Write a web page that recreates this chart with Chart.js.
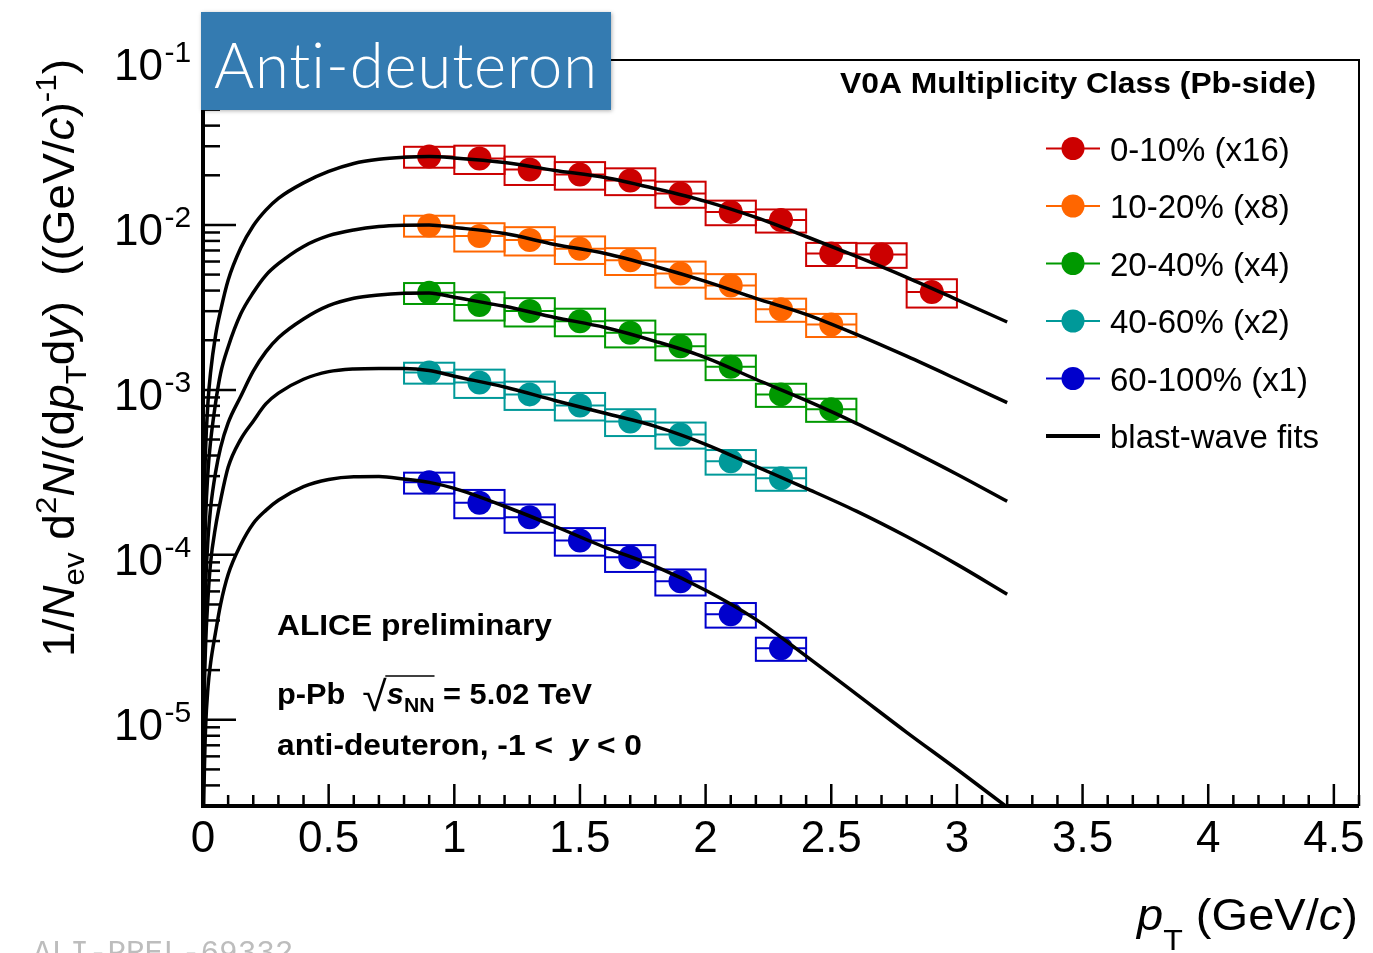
<!DOCTYPE html>
<html>
<head>
<meta charset="utf-8">
<title>Anti-deuteron pT spectra, p-Pb 5.02 TeV</title>
<script src="https://cdn.jsdelivr.net/npm/chart.js@4.4.0/dist/chart.umd.min.js"></script>
<style>
  html, body { margin: 0; padding: 0; background: #fff; }
  canvas { display: block; }
</style>
</head>
<body>
<canvas id="spectra" width="1373" height="953"></canvas>
<script>
// pT bin centres (GeV/c); every bin is 0.2 wide
const ptBins = [0.9, 1.1, 1.3, 1.5, 1.7, 1.9, 2.1, 2.3, 2.5, 2.7, 2.9];
const ptHalfWidth = 0.1;
// relative systematic uncertainty per pT bin (the open boxes)
const sysRel = [0.145, 0.195, 0.195, 0.19, 0.185, 0.18, 0.17, 0.16, 0.16, 0.17, 0.195];

// V0A multiplicity classes, already scaled by the factor in the label
const classLabels = ['0-10% (x16)', '10-20% (x8)', '20-40% (x4)', '40-60% (x2)', '60-100% (x1)'];
const classColors = ['#cc0000', '#ff6600', '#009900', '#009999', '#0000cc'];
const yield0to10  = [0.0260, 0.0253, 0.0217, 0.0202, 0.0186, 0.0155, 0.0120, 0.0107, 0.00671, 0.00662, 0.00392];
const yield10to20 = [0.00993, 0.00857, 0.00811, 0.00716, 0.00610, 0.00508, 0.00430, 0.00308, 0.00249];
const yield20to40 = [0.00388, 0.00327, 0.00301, 0.00261, 0.00222, 0.00184, 0.00138, 0.000939, 0.000762];
const yield40to60 = [0.001276, 0.00111, 0.000939, 0.000805, 0.000644, 0.000537, 0.000369, 0.000291];
const yield60to100 = [0.000275, 0.000207, 0.000169, 0.000122, 0.0000966, 0.0000691, 0.0000436, 0.0000271];

// blast-wave fits, sampled along pT
const fitPt = [0.0001, 0.001, 0.005, 0.01, 0.02, 0.03, 0.05, 0.07, 0.1, 0.15, 0.2, 0.25, 0.3,
  0.4, 0.5, 0.6, 0.7, 0.8, 0.9, 1.0, 1.2, 1.4, 1.6, 1.8, 2.0, 2.2, 2.4, 2.6, 2.8, 3.0, 3.2];
const fit0to10 = [4.27e-6, 4.27e-5, 2.14e-4, 4.27e-4, 8.51e-4, 1.27e-3, 2.14e-3, 3.02e-3, 4.62e-3, 7.24e-3,
  9.89e-3, 1.23e-2, 1.45e-2, 1.80e-2, 2.11e-2, 2.36e-2, 2.50e-2, 2.57e-2, 2.60e-2, 2.55e-2,
  2.39e-2, 2.14e-2, 1.94e-2, 1.66e-2, 1.39e-2, 1.11e-2, 8.51e-3, 6.44e-3, 4.81e-3, 3.53e-3, 2.58e-3];
const fit10to20 = [1.62e-6, 1.62e-5, 8.13e-5, 1.62e-4, 3.24e-4, 4.84e-4, 8.32e-4, 1.26e-3, 1.82e-3, 2.88e-3,
  3.89e-3, 4.95e-3, 5.82e-3, 7.41e-3, 8.61e-3, 9.33e-3, 9.77e-3, 9.95e-3, 1.00e-2, 9.66e-3,
  8.87e-3, 7.62e-3, 6.71e-3, 5.60e-3, 4.55e-3, 3.59e-3, 2.87e-3, 2.17e-3, 1.60e-3, 1.16e-3, 8.36e-4];
const fit20to40 = [6.31e-7, 6.31e-6, 3.16e-5, 6.31e-5, 1.26e-4, 1.91e-4, 3.16e-4, 4.47e-4, 6.31e-4, 9.12e-4,
  1.30e-3, 1.70e-3, 2.07e-3, 2.69e-3, 3.24e-3, 3.59e-3, 3.76e-3, 3.85e-3, 3.87e-3, 3.64e-3,
  3.21e-3, 2.75e-3, 2.39e-3, 1.97e-3, 1.57e-3, 1.16e-3, 8.63e-4, 6.27e-4, 4.42e-4, 3.08e-4, 2.11e-4];
const fit40to60 = [2.75e-7, 2.75e-6, 1.38e-5, 2.75e-5, 5.50e-5, 8.91e-5, 1.48e-4, 2.14e-4, 3.39e-4, 5.01e-4,
  6.46e-4, 8.22e-4, 9.55e-4, 1.16e-3, 1.29e-3, 1.34e-3, 1.35e-3, 1.35e-3, 1.31e-3, 1.21e-3,
  1.04e-3, 8.63e-4, 7.21e-4, 6.01e-4, 4.68e-4, 3.44e-4, 2.53e-4, 1.84e-4, 1.29e-4, 8.75e-5, 5.77e-5];
const fit60to100 = [1.0e-7, 1.0e-6, 4.47e-6, 8.71e-6, 1.58e-5, 2.19e-5, 3.39e-5, 5.01e-5, 7.59e-5, 1.15e-4,
  1.55e-4, 1.86e-4, 2.14e-4, 2.59e-4, 2.86e-4, 2.97e-4, 2.98e-4, 2.88e-4, 2.75e-4, 2.53e-4,
  1.97e-4, 1.49e-4, 1.11e-4, 8.51e-5, 6.10e-5, 4.06e-5, 2.43e-5, 1.43e-5, 8.39e-6, 5.01e-6, 2.95e-6];

// axis ticks
const xTickValues = [0, 0.5, 1, 1.5, 2, 2.5, 3, 3.5, 4, 4.5];
const xTickLabels = ['0', '0.5', '1', '1.5', '2', '2.5', '3', '3.5', '4', '4.5'];
const yDecades = [-5, -4, -3, -2, -1];

const yields = [yield0to10, yield10to20, yield20to40, yield40to60, yield60to100];
const fits = [fit0to10, fit10to20, fit20to40, fit40to60, fit60to100];

const SANS = '"Liberation Sans", Arial, Helvetica, sans-serif';
function font(size, style) {
    return (style || '') + ' ' + size + 'px ' + SANS;
}

function runsWidth(ctx, runs) {
    let w = 0;
    runs.forEach(function (r) { ctx.font = r.font; w += ctx.measureText(r.t).width; });
    return w;
}

// draws a list of text pieces (sub/superscripts, italics) on one baseline;
// fitWidth stretches the whole line to that width
function drawRuns(ctx, x, y, runs, fitWidth) {
    const sx = fitWidth ? fitWidth / runsWidth(ctx, runs) : 1;
    const spans = [];
    let cx = 0;
    ctx.save();
    ctx.translate(x, y);
    ctx.scale(sx, 1);
    ctx.textAlign = 'left';
    ctx.textBaseline = 'alphabetic';
    runs.forEach(function (r) {
        ctx.font = r.font;
        ctx.fillText(r.t, cx, r.dy || 0);
        const w = ctx.measureText(r.t).width;
        spans.push([x + cx * sx, x + (cx + w) * sx]);
        cx += w;
    });
    ctx.restore();
    return spans;
}

/**
 * systematic boxes and horizontal bin-width bars, under the markers
 */
const sysBoxes = {
    id: 'sysBoxes',
    beforeDatasetsDraw(chart) {
        const { ctx, chartArea: a, scales: { x, y } } = chart;
        ctx.save();
        ctx.beginPath();
        ctx.rect(a.left, a.top, a.right - a.left, a.bottom - a.top);
        ctx.clip();
        ctx.lineWidth = 2;
        yields.forEach(function (vals, s) {
            ctx.strokeStyle = classColors[s];
            vals.forEach(function (v, i) {
                const x1 = x.getPixelForValue(ptBins[i] - ptHalfWidth);
                const x2 = x.getPixelForValue(ptBins[i] + ptHalfWidth);
                const yt = y.getPixelForValue(v * (1 + sysRel[i]));
                const yb = y.getPixelForValue(v * (1 - sysRel[i]));
                const yc = y.getPixelForValue(v);
                ctx.strokeRect(x1, yt, x2 - x1, yb - yt);
                ctx.beginPath();
                ctx.moveTo(x1, yc);
                ctx.lineTo(x2, yc);
                ctx.stroke();
            });
        });
        ctx.restore();
    }
};

/**
 * frame, ticks, labels, legend and text on top of the data
 */
const decorations = {
    id: 'decorations',
    afterDatasetsDraw(chart) {
        const { ctx, chartArea: a, scales: { x, y } } = chart;
        ctx.save();
        ctx.fillStyle = '#000';
        ctx.strokeStyle = '#000';

        // frame: thin top and right, thick axes
        ctx.lineWidth = 2;
        ctx.beginPath();
        ctx.moveTo(a.left, a.top);
        ctx.lineTo(a.right, a.top);
        ctx.lineTo(a.right, a.bottom);
        ctx.stroke();
        ctx.lineWidth = 4;
        ctx.beginPath();
        ctx.moveTo(a.left, a.top);
        ctx.lineTo(a.left, a.bottom);
        ctx.lineTo(a.right, a.bottom);
        ctx.stroke();

        // x ticks, every 0.1 with longer ones at the labels
        ctx.lineWidth = 2.5;
        for (let k = 0; k <= 46; k++) {
            const px = x.getPixelForValue(k / 10);
            const len = (k % 5 === 0) ? 22 : 11;
            ctx.beginPath();
            ctx.moveTo(px, a.bottom);
            ctx.lineTo(px, a.bottom - len);
            ctx.stroke();
        }
        // y ticks, decades and 2..9 in between
        for (let e = -6; e <= -1; e++) {
            for (let m = 1; m <= 9; m++) {
                const v = m * Math.pow(10, e);
                if (v < y.min * 0.999 || v > y.max * 1.001) continue;
                const py = y.getPixelForValue(v);
                const len = (m === 1) ? 33 : 17;
                ctx.beginPath();
                ctx.moveTo(a.left, py);
                ctx.lineTo(a.left + len, py);
                ctx.stroke();
            }
        }

        // tick labels
        ctx.textBaseline = 'alphabetic';
        ctx.font = font(44);
        ctx.textAlign = 'center';
        xTickValues.forEach(function (v, i) {
            ctx.fillText(xTickLabels[i], x.getPixelForValue(v), 852);
        });
        yDecades.forEach(function (e) {
            const py = y.getPixelForValue(Math.pow(10, e));
            drawRuns(ctx, 114, py + 20, [
                { t: '10', font: font(44) },
                { t: '\u2009', font: font(8) },
                { t: String(e), font: font(30), dy: -18 }
            ]);
        });

        // axis titles
        drawRuns(ctx, 1137, 930, [
            { t: 'p', font: font(44, 'italic') },
            { t: 'T', font: font(30), dy: 20 },
            { t: ' (GeV/', font: font(44) },
            { t: 'c', font: font(44, 'italic') },
            { t: ')', font: font(44) }
        ], 221);

        ctx.save();
        ctx.translate(74, 657);
        ctx.rotate(-Math.PI / 2);
        drawRuns(ctx, 0, 0, [
            { t: '1/', font: font(44) },
            { t: 'N', font: font(44, 'italic') },
            { t: 'ev', font: font(30), dy: 10 },
            { t: ' d', font: font(44) },
            { t: '2', font: font(30), dy: -18 },
            { t: 'N', font: font(44, 'italic') },
            { t: '/(d', font: font(44) },
            { t: 'p', font: font(44, 'italic') },
            { t: 'T', font: font(30), dy: 12 },
            { t: 'd', font: font(44) },
            { t: 'y', font: font(44, 'italic') },
            { t: ')  ((GeV/', font: font(44) },
            { t: 'c', font: font(44, 'italic') },
            { t: ')', font: font(44) },
            { t: '-1', font: font(30), dy: -18 },
            { t: ')', font: font(44) }
        ], 598);
        ctx.restore();

        // legend
        drawRuns(ctx, 840, 93, [{ t: 'V0A Multiplicity Class (Pb-side)', font: font(29, 'bold') }], 476);
        const rowY0 = 148.5, rowStep = 57.5;
        classLabels.forEach(function (label, s) {
            const ry = rowY0 + s * rowStep;
            ctx.strokeStyle = classColors[s];
            ctx.fillStyle = classColors[s];
            ctx.lineWidth = 2;
            ctx.beginPath();
            ctx.moveTo(1046, ry);
            ctx.lineTo(1100, ry);
            ctx.stroke();
            ctx.beginPath();
            ctx.arc(1073, ry, 11.5, 0, Math.PI * 2);
            ctx.fill();
            ctx.fillStyle = '#000';
            drawRuns(ctx, 1110, ry + 12, [{ t: label, font: font(33) }]);
        });
        const fitRow = rowY0 + 5 * rowStep;
        ctx.strokeStyle = '#000';
        ctx.lineWidth = 4;
        ctx.beginPath();
        ctx.moveTo(1046, fitRow);
        ctx.lineTo(1100, fitRow);
        ctx.stroke();
        drawRuns(ctx, 1110, fitRow + 12, [{ t: 'blast-wave fits', font: font(33) }]);

        // collision system and status
        drawRuns(ctx, 277, 635, [{ t: 'ALICE preliminary', font: font(29, 'bold') }], 275);
        const sp = drawRuns(ctx, 277, 704, [
            { t: 'p-Pb  ', font: font(29, 'bold') },
            { t: '\u221A', font: font(42), dy: 7 },
            { t: 's', font: font(29, 'bold italic') },
            { t: 'NN', font: font(20, 'bold'), dy: 8 },
            { t: ' = 5.02 TeV', font: font(29, 'bold') }
        ], 315);
        ctx.lineWidth = 1.5;
        ctx.beginPath();
        ctx.moveTo(sp[1][1] - 1.5, 676);
        ctx.lineTo(sp[3][1], 676);
        ctx.stroke();
        drawRuns(ctx, 277, 755, [
            { t: 'anti-deuteron, -1 <  ', font: font(29, 'bold') },
            { t: 'y', font: font(29, 'bold italic') },
            { t: ' < 0', font: font(29, 'bold') }
        ], 365);

        // particle label box over the top-left corner
        ctx.save();
        ctx.shadowColor = 'rgba(0, 0, 0, 0.3)';
        ctx.shadowBlur = 4;
        ctx.shadowOffsetX = 1;
        ctx.shadowOffsetY = 1;
        ctx.fillStyle = '#347bb1';
        ctx.fillRect(201, 12, 410, 98);
        ctx.restore();
        ctx.save();
        ctx.fillStyle = '#fff';
        ctx.letterSpacing = '1px';  // also keeps "ti" from turning into a ligature
        drawRuns(ctx, 214, 88, [{ t: 'Anti-deuteron', font: '300 64px Lato, "Open Sans", ' + SANS }], 384);
        ctx.restore();

        // figure id, cut at the page edge
        ctx.fillStyle = '#bdbdbd';
        ctx.font = '31px "Liberation Mono", "DejaVu Sans Mono", monospace';
        ctx.textAlign = 'left';
        ctx.fillText('ALI-PREL-69332', 33, 962);

        ctx.restore();
    }
};

document.addEventListener("DOMContentLoaded", function () {

    const datasets = [];

    // fits first so they are painted over the markers
    fits.forEach(function (f) {
        datasets.push({
            label: 'blast-wave fit',
            data: fitPt.map(function (pt, i) { return { x: pt, y: f[i] }; }),
            showLine: true,
            borderColor: '#000',
            borderWidth: 3.5,
            pointRadius: 0,
            cubicInterpolationMode: 'monotone',
            fill: false
        });
    });

    yields.forEach(function (vals, s) {
        datasets.push({
            label: classLabels[s],
            data: vals.map(function (v, i) { return { x: ptBins[i], y: v }; }),
            showLine: false,
            pointRadius: 12,
            pointHoverRadius: 12,
            pointBorderWidth: 0,
            backgroundColor: classColors[s],
            borderColor: classColors[s]
        });
    });

    new Chart(document.getElementById('spectra'), {
        type: 'scatter',
        data: { datasets: datasets },
        options: {
            responsive: false,
            animation: false,
            devicePixelRatio: 1,
            layout: { padding: { left: 203, top: 60, right: 14, bottom: 147 } },
            scales: {
                x: { type: 'linear', min: 0, max: 4.6, display: false },
                y: { type: 'logarithmic', min: 3e-6, max: 0.1, display: false }
            },
            plugins: {
                legend: { display: false },
                tooltip: { enabled: false }
            }
        },
        plugins: [sysBoxes, decorations]
    });
});
</script>
</body>
</html>
